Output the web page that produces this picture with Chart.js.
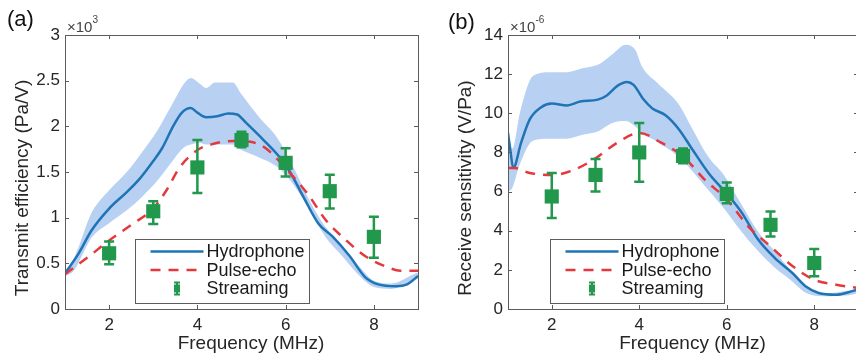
<!DOCTYPE html>
<html><head><meta charset="utf-8">
<script src="https://cdn.jsdelivr.net/npm/chart.js@4/dist/chart.umd.min.js"></script>
<style>
html,body{margin:0;padding:0;background:#fff;overflow:hidden;width:856px;height:357px;}
#wrap{position:relative;width:856px;height:357px;overflow:hidden;background:#fff;}
canvas{position:absolute;top:0;}
#ca{left:0}
#cb{left:428px}
</style></head><body><div id="wrap"><canvas id="ca" width="428" height="357"></canvas><canvas id="cb" width="440" height="357"></canvas></div>
<script>
// ---------- shared ----------
const xTicks = [2, 4, 6, 8];
const streamFreq = [2, 3, 4, 5, 6, 7, 8];
const legendLabels = ['Hydrophone', 'Pulse-echo', 'Streaming'];

// ---------- panel (a): transmit efficiency, x10^3 Pa/V ----------
const yTicksA = [0, 0.5, 1, 1.5, 2, 2.5, 3];
const hydroFreqA = [1, 1.3, 1.6, 2, 2.4, 2.7, 3, 3.2, 3.45, 3.65, 3.85, 4.0, 4.2, 4.45, 4.7, 4.9, 5.1, 5.5, 5.85, 6.1, 6.4, 6.75, 7.05, 7.45, 7.8, 8.1, 8.5, 8.75, 9];
const hydroA = [0.39, 0.6, 0.86, 1.1, 1.28, 1.43, 1.62, 1.76, 2.0, 2.15, 2.2, 2.15, 2.1, 2.11, 2.14, 2.13, 2.04, 1.85, 1.67, 1.5, 1.23, 0.93, 0.8, 0.58, 0.35, 0.27, 0.25, 0.27, 0.36];
const bandFreqA = [1, 1.2, 1.6, 2, 2.4, 2.75, 3.1, 3.45, 3.7, 3.85, 4.05, 4.2, 4.4, 4.8, 5.0, 5.4, 5.8, 6.15, 6.55, 6.9, 7.3, 7.7, 8.0, 8.4, 8.9, 9];
const bandUpperA = [0.42, 0.55, 1.05, 1.3, 1.5, 1.72, 1.96, 2.26, 2.47, 2.53, 2.47, 2.42, 2.48, 2.48, 2.35, 2.1, 1.88, 1.58, 1.18, 0.9, 0.68, 0.45, 0.31, 0.28, 0.38, 0.4];
const bandLowerA = [0.36, 0.42, 0.78, 0.94, 1.08, 1.23, 1.41, 1.63, 1.77, 1.8, 1.82, 1.8, 1.8, 1.8, 1.74, 1.66, 1.56, 1.38, 1.08, 0.79, 0.57, 0.35, 0.24, 0.22, 0.32, 0.34];
const peFreqA = [1, 1.5, 2, 2.5, 3, 3.3, 3.6, 4, 4.3, 4.8, 5.2, 5.55, 6, 6.5, 6.9, 7.4, 7.8, 8.3, 8.6, 9];
const peA = [0.38, 0.56, 0.75, 0.92, 1.1, 1.3, 1.55, 1.74, 1.8, 1.84, 1.83, 1.76, 1.54, 1.26, 0.98, 0.74, 0.58, 0.46, 0.42, 0.42];
const streamA = [0.61, 1.07, 1.55, 1.85, 1.60, 1.29, 0.79];
const streamHiA = [0.74, 1.18, 1.85, 1.94, 1.76, 1.47, 1.01];
const streamLoA = [0.49, 0.93, 1.27, 1.77, 1.45, 1.10, 0.56];

// ---------- panel (b): receive sensitivity, x10^-6 V/Pa ----------
const yTicksB = [0, 2, 4, 6, 8, 10, 12, 14];
const hydroFreqB = [1, 1.06, 1.12, 1.3, 1.5, 1.75, 2, 2.35, 2.65, 3.05, 3.25, 3.5, 3.72, 3.87, 4.1, 4.3, 4.6, 4.9, 5.2, 5.6, 6.0, 6.35, 6.7, 7.1, 7.5, 7.8, 8.1, 8.5, 8.85, 9];
const hydroB = [9.0, 8.0, 7.2, 8.5, 9.7, 10.3, 10.5, 10.4, 10.6, 10.7, 10.9, 11.4, 11.6, 11.45, 10.7, 10.25, 9.9, 9.2, 8.2, 6.9, 5.9, 4.9, 3.6, 2.6, 1.84, 1.16, 0.82, 0.73, 0.9, 1.0];
const bandFreqB = [1, 1.1, 1.27, 1.57, 1.95, 2.33, 2.7, 3.08, 3.38, 3.69, 3.92, 4.06, 4.44, 4.89, 5.19, 5.57, 5.95, 6.32, 6.7, 7.08, 7.45, 7.83, 8.2, 8.8, 9];
const bandUpperB = [9.0, 8.2, 10.0, 11.9, 12.1, 12.1, 12.3, 12.5, 13.0, 13.5, 13.2, 12.4, 11.5, 10.5, 9.3, 7.8, 6.8, 5.4, 4.0, 3.0, 2.0, 1.1, 0.8, 0.95, 1.05];
const bandLowerB = [6.0, 6.2, 7.4, 8.6, 8.7, 8.7, 8.9, 9.1, 9.5, 9.6, 9.3, 9.0, 8.5, 7.8, 7.1, 6.1, 5.1, 4.0, 3.0, 2.15, 1.5, 0.8, 0.65, 0.7, 0.8];
const peFreqB = [1, 1.15, 1.5, 2, 2.5, 3, 3.5, 4, 4.5, 5, 5.5, 6, 6.5, 7, 7.5, 8, 8.5, 9];
const peB = [7.2, 7.2, 6.95, 6.85, 7.1, 7.7, 8.5, 9.0, 8.5, 7.8, 6.6, 5.6, 4.2, 3.2, 2.2, 1.5, 1.24, 1.07];
const streamB = [5.75, 6.85, 8.0, 7.82, 5.88, 4.3, 2.35];
const streamHiB = [6.95, 7.67, 9.5, 8.2, 6.46, 4.98, 3.06];
const streamLoB = [4.65, 6.0, 6.5, 7.45, 5.4, 3.7, 1.67];

// ---------- styling ----------
const FONT = '"Liberation Sans", Arial, Helvetica, sans-serif';
const BLUE = '#1f74b6';
const RED = '#e5383c';
const GREEN = '#21984b';
const BAND = 'rgb(184,209,243)';
const AXC = '#5c5c5c';
const TXT = '#262626';
const DASH = [10, 8];

function pts(xs, ys) { return xs.map((x, i) => ({ x: x, y: ys[i] })); }

function decor(spec) {
  return {
    id: 'decor' + spec.panel,
    afterDatasetsDraw(chart) {
      const ctx = chart.ctx, xs = chart.scales.x, ys = chart.scales.y;
      ctx.save();
      ctx.strokeStyle = GREEN; ctx.lineWidth = 2.5;
      streamFreq.forEach((f, i) => {
        const px = xs.getPixelForValue(f);
        const yh = ys.getPixelForValue(spec.hi[i]);
        const yl = ys.getPixelForValue(spec.lo[i]);
        ctx.beginPath();
        ctx.moveTo(px, yh); ctx.lineTo(px, yl);
        ctx.moveTo(px - 5, yh); ctx.lineTo(px + 5, yh);
        ctx.moveTo(px - 5, yl); ctx.lineTo(px + 5, yl);
        ctx.stroke();
      });
      ctx.restore();
    },
    afterDraw(chart) {
      const ctx = chart.ctx, a = chart.chartArea, xs = chart.scales.x, ys = chart.scales.y;
      ctx.save();
      // frame + inward ticks
      ctx.strokeStyle = AXC; ctx.lineWidth = 1;
      ctx.strokeRect(Math.round(a.left) + 0.5, Math.round(a.top) + 0.5, Math.round(a.right - a.left), Math.round(a.bottom - a.top));
      ctx.beginPath();
      xTicks.forEach(v => {
        const p = Math.round(xs.getPixelForValue(v)) + 0.5;
        ctx.moveTo(p, a.bottom); ctx.lineTo(p, a.bottom - 4);
        ctx.moveTo(p, a.top); ctx.lineTo(p, a.top + 4);
      });
      spec.yTicks.forEach(v => {
        const p = Math.round(ys.getPixelForValue(v)) + 0.5;
        ctx.moveTo(a.left, p); ctx.lineTo(a.left + 4, p);
        ctx.moveTo(a.right, p); ctx.lineTo(a.right - 4, p);
      });
      ctx.stroke();

      // legend
      const bx = Math.round(a.left + spec.legendDx) + 0.5, by = Math.round(a.top + 204) + 0.5;
      ctx.fillStyle = '#fff';
      ctx.fillRect(bx, by, 174, 64);
      ctx.strokeStyle = AXC; ctx.lineWidth = 1;
      ctx.strokeRect(bx, by, 174, 64);
      const rows = [by + 12, by + 30.5, by + 49];
      ctx.lineWidth = 2.5;
      ctx.strokeStyle = BLUE;
      ctx.beginPath(); ctx.moveTo(bx + 15, rows[0]); ctx.lineTo(bx + 68, rows[0]); ctx.stroke();
      ctx.strokeStyle = RED; ctx.setLineDash(DASH);
      ctx.beginPath(); ctx.moveTo(bx + 15, rows[1]); ctx.lineTo(bx + 68, rows[1]); ctx.stroke();
      ctx.setLineDash([]);
      const cx = bx + 41.5;
      ctx.strokeStyle = GREEN; ctx.fillStyle = GREEN; ctx.lineWidth = 2;
      ctx.beginPath();
      ctx.moveTo(cx, rows[2] - 6); ctx.lineTo(cx, rows[2] + 6);
      ctx.moveTo(cx - 3, rows[2] - 6); ctx.lineTo(cx + 3, rows[2] - 6);
      ctx.moveTo(cx - 3, rows[2] + 6); ctx.lineTo(cx + 3, rows[2] + 6);
      ctx.stroke();
      ctx.fillRect(cx - 3, rows[2] - 4, 6, 8);
      ctx.fillStyle = '#1a1a1a';
      ctx.font = '18px ' + FONT;
      ctx.textAlign = 'left'; ctx.textBaseline = 'middle';
      legendLabels.forEach((t, i) => ctx.fillText(t, bx + 71, rows[i] + 1));

      // axis titles
      ctx.fillStyle = TXT;
      ctx.font = '19px ' + FONT;
      ctx.textAlign = 'center'; ctx.textBaseline = 'middle';
      ctx.fillText(spec.xTitle, (a.left + a.right) / 2 + 9.5, 344);
      ctx.save();
      ctx.translate(a.left - 42, 188);
      ctx.rotate(-Math.PI / 2);
      ctx.fillText(spec.yTitle, 0, 0);
      ctx.restore();

      // panel label
      ctx.fillStyle = '#111';
      ctx.font = '22px ' + FONT;
      ctx.textAlign = 'left'; ctx.textBaseline = 'alphabetic';
      ctx.fillText(spec.panel, a.left + spec.labelDx, spec.labelY);

      // exponent
      ctx.fillStyle = '#444';
      ctx.font = '15px ' + FONT;
      const ex = a.left + 2;
      ctx.fillText('\u00d710', ex, 31.5);
      const w = ctx.measureText('\u00d710').width;
      ctx.font = '10px ' + FONT;
      ctx.fillText(spec.exp, ex + w, 23);
      ctx.restore();
    }
  };
}

function build(id, spec) {
  const tickFont = { family: FONT, size: 17 };
  return new Chart(document.getElementById(id), {
    type: 'scatter',
    data: {
      datasets: [
        { label: 'Streaming', data: pts(streamFreq, spec.stream), showLine: false, pointStyle: 'rect',
          pointRadius: 10, pointBackgroundColor: GREEN, pointBorderWidth: 0, pointBorderColor: GREEN, order: 0 },
        { label: 'Pulse-echo', data: pts(spec.peF, spec.pe), showLine: true, borderColor: RED, borderWidth: 2.5,
          borderDash: DASH, pointRadius: 0, fill: false, cubicInterpolationMode: 'monotone', order: 1 },
        { label: 'Hydrophone', data: pts(spec.hF, spec.h), showLine: true, borderColor: BLUE, borderWidth: 2.5,
          pointRadius: 0, fill: false, cubicInterpolationMode: 'monotone', order: 2 },
        { label: 'band-upper', data: pts(spec.bF, spec.bU), showLine: true, borderWidth: 0, borderColor: 'rgba(0,0,0,0)',
          backgroundColor: BAND, fill: '+1', pointRadius: 0, cubicInterpolationMode: 'monotone', order: 3 },
        { label: 'band-lower', data: pts(spec.bF, spec.bL), showLine: true, borderWidth: 0, borderColor: 'rgba(0,0,0,0)',
          fill: false, pointRadius: 0, cubicInterpolationMode: 'monotone', order: 4 }
      ]
    },
    options: {
      responsive: false, animation: false, devicePixelRatio: 1,
      layout: { padding: { left: spec.padLeft, right: spec.padRight, top: 35, bottom: 0 } },
      plugins: { legend: { display: false }, tooltip: { enabled: false } },
      scales: {
        x: {
          type: 'linear', min: 1, max: 9,
          afterBuildTicks: s => { s.ticks = xTicks.map(v => ({ value: v })); },
          afterFit: s => { s.height = 48; },
          grid: { display: false, drawTicks: false }, border: { display: false },
          ticks: { autoSkip: false, maxRotation: 0, padding: 6, font: tickFont, color: TXT, callback: v => String(v) }
        },
        y: {
          type: 'linear', min: 0, max: spec.yTicks[spec.yTicks.length - 1],
          afterBuildTicks: s => { s.ticks = spec.yTicks.map(v => ({ value: v })); },
          afterFit: s => { s.width = 65; },
          grid: { display: false, drawTicks: false }, border: { display: false },
          ticks: { autoSkip: false, padding: 5, font: tickFont, color: TXT, callback: v => String(v) }
        }
      }
    },
    plugins: [decor(spec)]
  });
}

build('ca', {
  panel: '(a)', exp: '3', padLeft: 0, padRight: 10, legendDx: 70, labelDx: -58, labelY: 26,
  yTicks: yTicksA, hF: hydroFreqA, h: hydroA, bF: bandFreqA, bU: bandUpperA, bL: bandLowerA,
  peF: peFreqA, pe: peA, stream: streamA, hi: streamHiA, lo: streamLoA,
  xTitle: 'Frequency (MHz)', yTitle: 'Transmit efficiency (Pa/V)'
});
build('cb', {
  panel: '(b)', exp: '-6', padLeft: 15, padRight: 6, legendDx: 42, labelDx: -60, labelY: 29,
  yTicks: yTicksB, hF: hydroFreqB, h: hydroB, bF: bandFreqB, bU: bandUpperB, bL: bandLowerB,
  peF: peFreqB, pe: peB, stream: streamB, hi: streamHiB, lo: streamLoB,
  xTitle: 'Frequency (MHz)', yTitle: 'Receive sensitivity (V/Pa)'
});
</script></body></html>
